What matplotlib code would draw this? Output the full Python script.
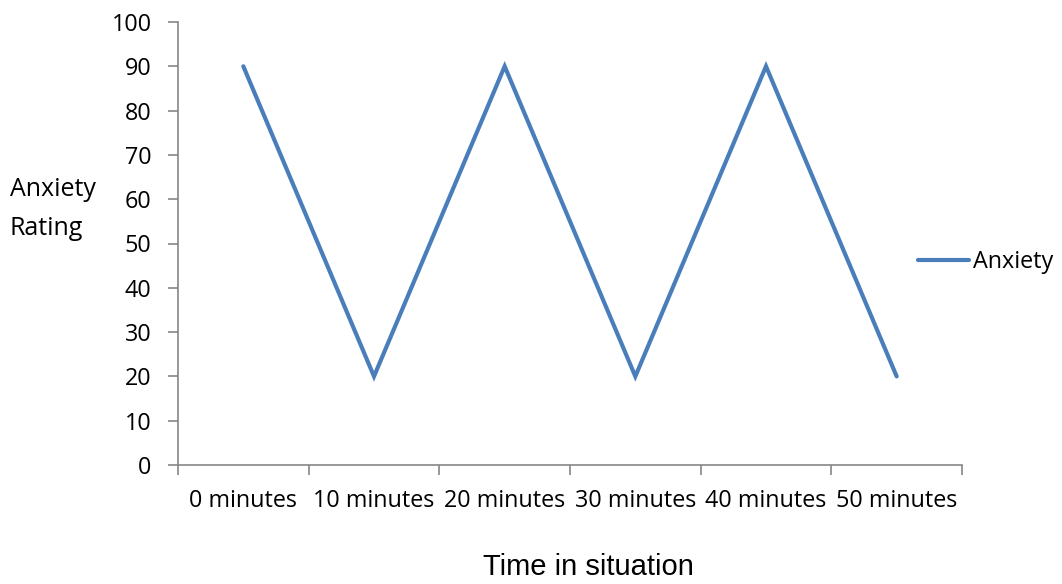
import matplotlib
matplotlib.use("Agg")
import matplotlib.pyplot as plt
from matplotlib.lines import Line2D

categories = ["0 minutes", "10 minutes", "20 minutes", "30 minutes", "40 minutes", "50 minutes"]
anxiety = [90, 20, 90, 20, 90, 20]
y_ticks = [0, 10, 20, 30, 40, 50, 60, 70, 80, 90, 100]

line_color = "#4a7ebb"
axis_color = "#868686"
tick_font = "Open Sans"
title_font = "Liberation Sans"
font_size = 16.8

fig = plt.figure(figsize=(10.62, 5.84), dpi=100)
ax = fig.add_axes([178 / 1062, 1 - 465 / 584, (962 - 178) / 1062, (465 - 22) / 584])

x = list(range(len(categories)))
ax.plot(x, anxiety, color=line_color, lw=3.0, solid_capstyle="round",
        solid_joinstyle="miter", clip_on=False)

ax.set_xlim(-0.5, len(categories) - 0.5)
ax.set_ylim(0, 100)

# category boundaries carry the tick marks; labels sit at category centres
ax.set_xticks([i - 0.5 for i in range(len(categories) + 1)])
ax.set_xticklabels([])
ax.set_xticks(x, minor=True)
ax.set_xticklabels(categories, minor=True, fontfamily=tick_font, fontsize=font_size)
ax.tick_params(axis="x", which="major", length=7, width=1.2, color=axis_color, direction="out")
ax.tick_params(axis="x", which="minor", length=0, pad=17)

ax.set_yticks(y_ticks)
ax.set_yticklabels([str(v) for v in y_ticks], fontfamily=tick_font, fontsize=font_size)
ax.tick_params(axis="y", length=7, width=1.2, color=axis_color, direction="out", pad=12)

for side in ("top", "right"):
    ax.spines[side].set_visible(False)
for side in ("left", "bottom"):
    ax.spines[side].set_color(axis_color)
    ax.spines[side].set_linewidth(1.2)

fig.text(588 / 1062, 1 - 575 / 584, "Time in situation", fontfamily=title_font,
         fontsize=21, ha="center", va="baseline")
fig.text(10 / 1062, 1 - 209 / 584, "Anxiety\nRating", fontfamily=tick_font,
         fontsize=18, ha="left", va="center", linespacing=1.7)

handle = Line2D([0], [0], color=line_color, lw=3.0, solid_capstyle="round")
leg = fig.legend([handle], ["Anxiety"], loc="center left",
                 bbox_to_anchor=(918 / 1062, 1 - 262 / 584), frameon=False,
                 prop={"family": tick_font, "size": font_size}, handlelength=2.2,
                 handletextpad=0.15, borderpad=0, borderaxespad=0)

fig.savefig("out.png", dpi=100)
